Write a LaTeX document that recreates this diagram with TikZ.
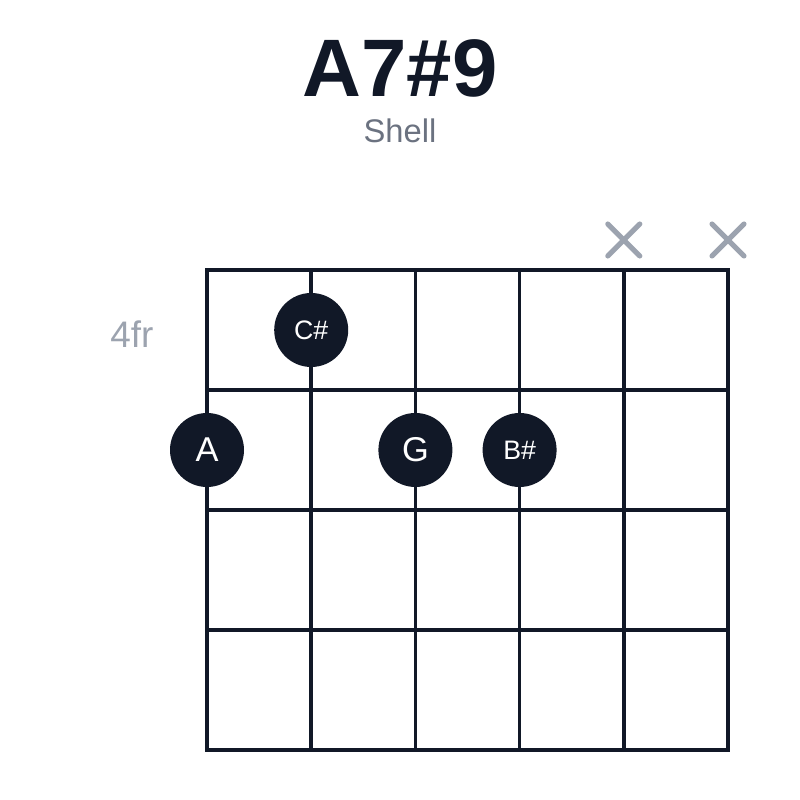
\documentclass[tikz,border=0pt]{standalone}
\usepackage{fontspec}
\setmainfont{Liberation Sans}
\usepackage{xcolor}
\usepackage{tikz, tkz-euclide}
\usetikzlibrary{calc}

\definecolor{ink}{HTML}{111827}
\definecolor{mute}{HTML}{6B7280}
\definecolor{faint}{HTML}{9CA3AF}

\tikzset{
  gridline/.style={ink, line width=1.0pt, line cap=rect},
  fingerdot/.style={circle, fill=ink, text=white, minimum size=0.74cm, inner sep=0pt},
  mutedx/.style={faint, line width=1.45pt, line cap=round},
}

\begin{document}
\begin{tikzpicture}
      \useasboundingbox[fill=white] (0,0) rectangle (8,8);
      \tkzDefPoints{3.112/4.70/pCs, 2.070/3.50/pA, 4.154/3.50/pG, 5.196/3.50/pBs}
      \tkzDefPoints{6.238/5.60/xE, 7.280/5.60/xF}

      % strings and frets
      \foreach \s in {0,...,5}
        \draw[gridline] ({2.07+1.042*\s},0.50) -- ({2.07+1.042*\s},5.30);
      \foreach \f in {0,...,4}
        \draw[gridline] (2.07,{5.30-1.20*\f}) -- (7.28,{5.30-1.20*\f});

      % muted strings
      \foreach \p in {xE, xF}{
        \draw[mutedx] ($(\p)+(-0.16,-0.16)$) -- ($(\p)+(0.16,0.16)$);
        \draw[mutedx] ($(\p)+(-0.16,0.16)$) -- ($(\p)+(0.16,-0.16)$);
      }

      % fingers
      \node[fingerdot, font=\fontsize{7.6}{7.6}\selectfont] (dotCs) at (pCs) {C\#};
      \node[fingerdot, font=\fontsize{9.8}{9.8}\selectfont] (dotA) at (pA) {A};
      \node[fingerdot, font=\fontsize{9.8}{9.8}\selectfont] (dotG) at (pG) {G};
      \node[fingerdot, font=\fontsize{7.6}{7.6}\selectfont] (dotBs) at (pBs) {B\#};

      % labels
      \node[anchor=base, ink, font=\fontsize{23.2}{23.2}\selectfont\bfseries] (title) at (4.0,7.03) {A7\#9};
      \node[anchor=base, mute, font=\fontsize{9.3}{9.3}\selectfont] (kind) at (4.0,6.57) {Shell};
      \node[anchor=base, faint, font=\fontsize{10.5}{10.5}\selectfont] (fret) at (1.32,4.52) {4fr};
    \end{tikzpicture}
\end{document}
